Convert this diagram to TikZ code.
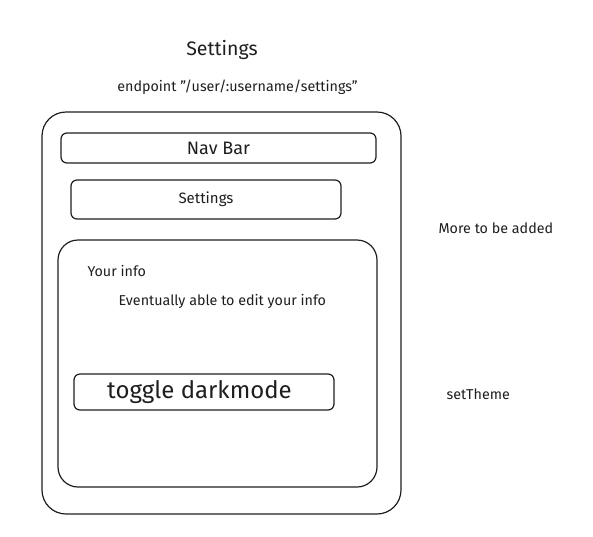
\documentclass[tikz,border=0pt]{standalone}
\usepackage{fontspec}
\setmainfont{Fira Sans}
\definecolor{ink}{HTML}{1E1E1E}
\begin{document}
\begin{tikzpicture}[x=1pt, y=-1pt, ink, line width=1.2pt,
  box/.style = {draw, rounded corners=#1, inner sep=0pt},
  box/.default = 6pt,
  label/.style = {inner sep=0pt, font=\fontsize{14.3}{16}\selectfont}]
\useasboundingbox (0,0) rectangle (593,536);

% headings
\node[label, font=\fontsize{19.5}{22}\selectfont] (title) at (222,50) {Settings};
\node[label] (endpoint) at (237.5,87) {endpoint "/user/:username/settings"};

% page frame
\node[box=24pt, minimum width=359pt, minimum height=402pt] (page) at (221.5,313) {};
\node[box, minimum width=315pt, minimum height=30pt, font=\fontsize{18}{20}\selectfont] (nav) at (218.5,148) {Nav Bar};
\node[box, minimum width=270pt, minimum height=39pt, label, font=\fontsize{15}{17}\selectfont] (head) at (206,199.5) {Settings};

% your info panel
\node[box=20pt, minimum width=319pt, minimum height=247pt] (info) at (217.5,363.5) {};
\node[label, anchor=west] (yourinfo) at (87,271) {Your info};
\node[label, anchor=west] (edit) at (118,301) {Eventually able to edit your info};
\node[box, minimum width=260pt, minimum height=36pt, font=\fontsize{24}{26}\selectfont] (toggle) at (204,392) {\hspace*{-9pt}toggle darkmode};

% side notes
\node[label, anchor=west] (more) at (438,228) {More to be added};
\node[label, anchor=west] (theme) at (446,394) {setTheme};
\end{tikzpicture}
\end{document}
